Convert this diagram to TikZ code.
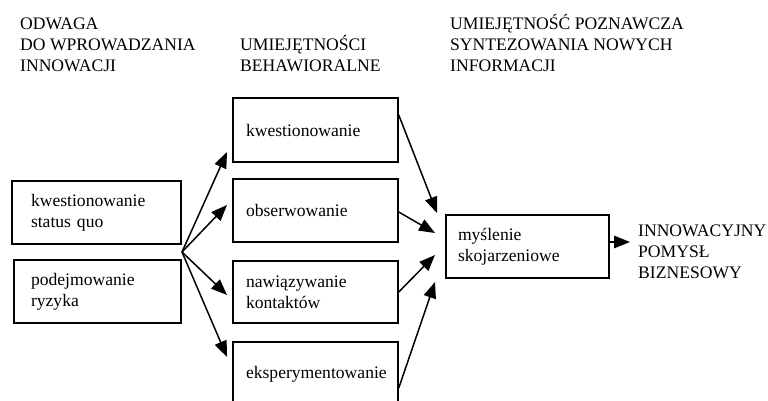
\documentclass[tikz,border=0pt]{standalone}
\usepackage{fontspec}
\setmainfont{Liberation Serif}
\usetikzlibrary{arrows.meta}
\hyphenpenalty=10000
\begin{document}
\begin{tikzpicture}[x=1pt,y=-1pt,
  every node/.style={font=\fontsize{17.6}{21}\selectfont},
  box/.style={draw, line width=1.5pt, align=left, inner ysep=0pt},
  arr/.style={line width=1.5pt, -{Triangle[length=16pt,width=12.5pt]}},
  hdr/.style={align=left, anchor=base west, inner sep=0pt}]
\useasboundingbox (0,0) rectangle (768,401);
% headers (anchor = baseline of last line)
\node[hdr] (h1) at (20,72) {ODWAGA\\DO WPROWADZANIA\\INNOWACJI};
\node[hdr] (h2) at (240,72) {UMIEJĘTNOŚCI\\BEHAWIORALNE};
\node[hdr] (h3) at (450,72) {UMIEJĘTNOŚĆ POZNAWCZA\\SYNTEZOWANIA NOWYCH\\INFORMACJI};
\node[hdr] (out) at (638,278) {INNOWACYJNY\\POMYSŁ\\BIZNESOWY};
% left boxes
\node[box, minimum width=169, minimum height=63, text width=131] (kq) at (96.5,212.5) {kwestionowanie\\status quo};
\node[box, minimum width=167, minimum height=63, text width=133] (pr) at (97.5,291.5) {podejmowanie\\ryzyka};
% middle boxes
\node[box, minimum width=165, minimum height=64, text width=139] (kw) at (315.5,130) {kwestionowanie};
\node[box, minimum width=165, minimum height=63, text width=139] (ob) at (315.5,210.5) {obserwowanie};
\node[box, minimum width=165, minimum height=62, text width=139] (na) at (315.5,292) {nawiązywanie\\kontaktów};
\node[box, minimum width=165, minimum height=64, text width=139] (ek) at (315.5,374) {eksperymentowanie};
% right box
\node[box, minimum width=163, minimum height=63, text width=139] (my) at (527.5,246.5) {myślenie\\skojarzeniowe};
% coordinates
\coordinate (fan) at (182,252);
\coordinate (t1) at (227,152);
\coordinate (t2) at (227,205);
\coordinate (t3) at (227,295);
\coordinate (t4) at (227,357);
\coordinate (m1) at (437,213);
\coordinate (m2) at (435,233);
\coordinate (m3) at (435,255);
\coordinate (m4) at (435,282);
\coordinate (o1) at (630,242);
% arrows
\draw[arr] (fan) -- (t1);
\draw[arr] (fan) -- (t2);
\draw[arr] (fan) -- (t3);
\draw[arr] (fan) -- (t4);
\draw[arr] ([yshift=15pt]kw.east) -- (m1);
\draw[arr] ([yshift=-1.5pt]ob.east) -- (m2);
\draw[arr] (na.east) -- (m3);
\draw[arr] ([yshift=-14pt]ek.east) -- (m4);
\draw[arr] ([yshift=4.5pt]my.east) -- (o1);
\end{tikzpicture}
\end{document}
